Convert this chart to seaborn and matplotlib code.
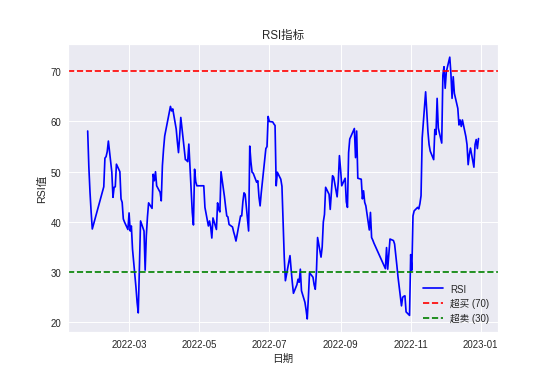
import pandas as pd
import seaborn as sns
import matplotlib.pyplot as plt

# RSI values per month (Chinese A-share trading days, 2022)
rsi_jan = [58.1, 51.0, 46.0, 42.0, 38.6]
rsi_feb = [47.0, 52.7, 53.0, 54.0, 56.1, 49.9, 44.9, 46.9, 47.0, 51.5, 50.0, 44.6,
           43.9, 40.6, 40.0, 38.5]
rsi_mar = [41.8, 38.2, 39.2, 34.6, 27.0, 24.0, 21.9, 31.0, 40.2, 38.2, 30.4, 37.2,
           41.0, 43.8, 42.7, 49.5, 48.2, 50.0, 47.2, 45.9, 44.2, 51.2, 54.5]
rsi_apr = [57.1, 63.0, 62.1, 62.5, 58.5, 56.0, 53.8, 57.0, 60.8, 54.5, 52.4, 52.3,
           52.0, 55.5, 41.9, 39.4, 50.5, 48.0, 47.2]
rsi_may = [47.2, 42.9, 39.2, 40.2, 39.0, 36.8, 40.8, 38.5, 43.8, 42.5, 42.0, 50.0,
           45.0, 43.0, 41.2, 41.0, 39.5, 39.0, 38.0]
rsi_jun = [37.2, 36.2, 41.2, 41.2, 44.0, 45.8, 45.5, 38.2, 55.1, 52.0, 49.9, 49.7,
           47.9, 48.2, 45.0, 43.2, 45.8, 52.5, 54.6, 55.0, 61.0]
rsi_jul = [60.0, 59.9, 59.5, 59.2, 47.2, 49.9, 48.5, 47.1, 40.0, 33.0, 28.3, 32.0,
           33.3, 30.5, 28.0, 25.8, 27.5, 28.6, 28.0, 30.6, 26.3]
rsi_aug = [24.0, 22.5, 20.7, 25.0, 29.9, 29.0, 27.5, 26.6, 30.0, 36.9, 33.0, 35.0,
           40.0, 41.5, 46.9, 45.5, 42.5, 46.0, 49.2, 48.9, 45.0, 48.0, 53.2]
rsi_sep = [50.5, 47.2, 48.7, 44.0, 42.9, 53.8, 56.5, 58.6, 52.8, 58.1, 48.7, 48.5,
           44.6, 46.2, 43.9, 43.2, 38.4, 41.9, 36.9, 36.4, 35.8]
rsi_oct = [30.7, 34.9, 30.6, 33.5, 36.6, 36.3, 35.6, 33.5, 31.3, 29.0, 23.3, 25.0,
           25.2, 25.3, 22.1, 21.4]
rsi_nov = [33.5, 30.4, 41.2, 42.2, 42.9, 42.6, 43.6, 45.2, 56.7, 65.9, 62.0, 58.0,
           55.4, 54.1, 52.4, 58.4, 57.4, 64.6, 58.7, 55.7, 69.2, 70.9]
rsi_dec = [66.6, 69.9, 72.8, 69.5, 64.6, 68.9, 65.6, 62.6, 59.3, 60.3, 59.0, 60.3,
           57.0, 55.4, 51.4, 53.4, 54.7, 50.9, 55.4, 56.4, 54.6, 56.6]

holidays = ['2022-01-31', '2022-02-01', '2022-02-02', '2022-02-03', '2022-02-04',
            '2022-04-04', '2022-04-05', '2022-05-02', '2022-05-03', '2022-05-04',
            '2022-06-03', '2022-09-12', '2022-10-03', '2022-10-04', '2022-10-05',
            '2022-10-06', '2022-10-07']

dates = pd.bdate_range('2022-01-24', '2022-12-30')
dates = dates[~dates.isin(pd.to_datetime(holidays))]
rsi = (rsi_jan + rsi_feb + rsi_mar + rsi_apr + rsi_may + rsi_jun + rsi_jul
       + rsi_aug + rsi_sep + rsi_oct + rsi_nov + rsi_dec)
df = pd.DataFrame({'date': dates, 'RSI': rsi})

sns.set_theme(style="darkgrid", rc={
    'axes.titlesize': 12, 'axes.labelsize': 11,
    'xtick.labelsize': 10, 'ytick.labelsize': 10, 'legend.fontsize': 10,
    'xtick.major.pad': 7, 'ytick.major.pad': 7,
    'xtick.major.size': 0, 'ytick.major.size': 0,
    'lines.solid_capstyle': 'round',
})
plt.rcParams['font.family'] = ['Liberation Sans', 'Noto Sans CJK SC', 'DejaVu Sans']
plt.rcParams['axes.unicode_minus'] = False

fig, ax = plt.subplots(figsize=(8, 5.5), dpi=69.25)
fig.subplots_adjust(left=0.123, right=0.899, bottom=0.126, top=0.882)

sns.lineplot(data=df, x='date', y='RSI', color='blue', linewidth=1.75, label='RSI', ax=ax)
ax.axhline(70, color='red', linestyle='--', linewidth=1.75, label='超买 (70)')
ax.axhline(30, color='green', linestyle='--', linewidth=1.75, label='超卖 (30)')

ax.set_title('RSI指标')
ax.set_xlabel('日期')
ax.set_ylabel('RSI值')
ax.legend(loc='lower right', frameon=False)

plt.savefig('out.png', dpi=69.25)
plt.close()
